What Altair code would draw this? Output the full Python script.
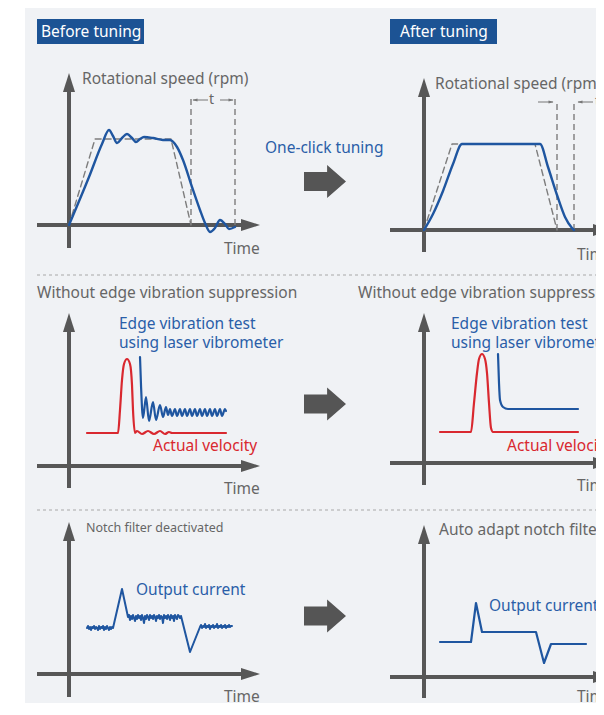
import altair as alt
import pandas as pd

# ---------------- values (local units: t = time from axis origin, v = value above the time axis) -------------
# Row 1 - rotational speed
speed_cmd_before_t = [0, 26, 102, 122]
speed_cmd_before_v = [0, 86, 86, 0]
speed_before_t = [0, 20, 33, 40, 44, 48, 53, 58, 63, 67, 71, 75, 84, 94, 101, 108, 114, 123, 131, 136, 141, 146, 151, 156, 160, 166]
speed_before_v = [0, 48, 81, 95, 89, 82, 87, 91, 87, 83, 86, 88, 87, 85, 85, 78, 65, 38, 15, 2, -7, -3, 5, 1, -4, -2]
settle_before_t = [122, 166]
speed_cmd_after_t = [0, 28, 111, 133]
speed_cmd_after_v = [0, 86, 86, 0]
speed_after_t = [0, 9, 19, 29, 38, 116, 124, 133, 141, 148, 150]
speed_after_v = [0, 16, 39, 66, 86, 86, 63, 35, 13, 2, 0]
settle_after_t = [133, 150]

# Row 2 - edge vibration
vib_red_before_t = [18, 49, 51, 53, 55, 58, 61, 63, 64, 66, 68, 73, 79, 85, 91, 96, 100, 103, 157]
vib_red_before_v = [33, 33, 56, 86, 102, 107, 102, 81, 56, 33, 35, 32, 35, 32, 35, 32, 34, 33, 33]
vib_blue_before_t = [71, 72, 74, 77, 80, 84, 87, 91, 94, 97, 99, 101, 103, 106, 108, 111, 113, 116, 118, 121, 123,
                     126, 128, 131, 133, 136, 138, 141, 143, 146, 148, 151, 153, 156, 157]
vib_blue_before_v = [109, 81, 48, 69, 45, 64, 46, 61, 49, 59, 51, 57, 50, 57, 50, 57, 50, 57, 50, 57, 50,
                     57, 50, 57, 50, 57, 50, 57, 50, 57, 50, 57, 50, 57, 55]
vib_red_after_t = [16, 47, 50, 53, 55, 58, 61, 63, 65, 67, 69, 154]
vib_red_after_v = [31, 31, 60, 90, 104, 109, 104, 90, 60, 35, 31, 31]
vib_blue_after_t = [74, 75, 76, 79, 84, 154]
vib_blue_after_v = [109, 80, 63, 56, 54, 54]

# Row 3 - output current (sampled every time unit on the noisy plateaus)
cur_before_t = list(range(18, 45)) + [53] + list(range(59, 113)) + [121] + list(range(131, 164))
cur_before_v = ([46, 48, 45, 47, 44, 47, 46, 48, 45, 47, 46, 44, 48, 45, 47, 46, 48, 44, 47, 45, 48, 46, 44, 47, 45, 47, 46]
                + [85]
                + [57, 59, 54, 58, 55, 59, 56, 53, 58, 55, 59, 56, 58, 54, 59, 56, 51, 58, 55, 59,
                   57, 54, 59, 56, 58, 55, 59, 57, 53, 58, 56, 59, 55, 58, 57, 51, 59, 56, 58, 55,
                   59, 57, 54, 59, 56, 58, 53, 59, 57, 55, 59, 58, 56, 58]
                + [22]
                + [47, 49, 46, 48, 47, 50, 46, 48, 47, 49, 45, 48, 47, 49, 46, 48, 47, 50, 46, 48,
                   47, 49, 46, 48, 47, 49, 46, 48, 47, 49, 47, 48, 48])
cur_after_t = [16, 47, 52, 58, 112, 120, 127, 162]
cur_after_v = [35, 35, 74, 45, 45, 14, 33, 33]

# ---------------- layout -------------
W, H = 588, 695
xs = alt.Scale(domain=[8, 8 + W], nice=False, zero=False)
ys = alt.Scale(domain=[8, 8 + H], nice=False, zero=False, reverse=True)

# panel: origin, x-axis left end, x-axis tip, y-axis bottom, y-axis tip
panels = {
    "p1": dict(o=(69, 225), xl=37, xt=260, yb=248, yt=73),
    "p2": dict(o=(424, 230), xl=390, xt=612, yb=252, yt=78),
    "p3": dict(o=(69, 466), xl=37, xt=260, yb=488, yt=313),
    "p4": dict(o=(424, 463), xl=390, xt=612, yb=485, yt=313),
    "p5": dict(o=(69, 674), xl=37, xt=260, yb=697, yt=522),
    "p6": dict(o=(424, 677), xl=390, xt=612, yb=698, yt=525),
}

GRAY_AX = "#575757"
DASH = "#7d7d7d"
TXT = "#666666"
BLUE = "#1f56a0"
BLUE_T = "#2a5ea8"
RED = "#d9282f"
BOX = "#1c5394"
BG = "#f0f2f5"
FONT = "Noto Sans"
FS = 15.5


def X(f="x"):
    return alt.X(f"{f}:Q", scale=xs, axis=None)


def Y(f="y"):
    return alt.Y(f"{f}:Q", scale=ys, axis=None)


def curve(p, t, v):
    ox, oy = panels[p]["o"]
    return pd.DataFrame({"x": [ox + a for a in t], "y": [oy - b for b in v], "i": list(range(len(t)))})


def line(df, color, width, interp="monotone", dash=None):
    kw = dict(color=color, strokeWidth=width, interpolate=interp, strokeCap="round", strokeJoin="round")
    if dash:
        kw["strokeDash"] = dash
    return alt.Chart(df).mark_line(**kw).encode(x=X(), y=Y(), order="i:Q")


layers = []

# background panel
bg = pd.DataFrame({"x": [25], "x2": [640], "y": [7], "y2": [740]})
layers.append(alt.Chart(bg).mark_rect(color=BG).encode(x=X(), x2="x2:Q", y=Y(), y2="y2:Q"))

# title boxes
boxes = pd.DataFrame({"x": [37, 390], "x2": [144, 497], "y": [19, 19], "y2": [44, 44]})
layers.append(alt.Chart(boxes).mark_rect(color=BOX).encode(x=X(), x2="x2:Q", y=Y(), y2="y2:Q"))

# separators
sep = pd.DataFrame({"x": [37, 37], "x2": [640, 640], "y": [275, 510]})
layers.append(alt.Chart(sep).mark_rule(color="#a8a8a8", strokeWidth=1, strokeDash=[3, 3]).encode(
    x=X(), x2="x2:Q", y=Y()))

# axes
hx, vx, heads_up, heads_right = [], [], [], []
for p, d in panels.items():
    ox, oy = d["o"]
    hx.append({"x": d["xl"], "x2": d["xt"] - 12, "y": oy})
    vx.append({"x": ox, "y": d["yb"], "y2": d["yt"] + 12})
    heads_up.append({"x": ox, "y": d["yt"] + 9.5})
    heads_right.append({"x": d["xt"] - 9.5, "y": oy})
layers.append(alt.Chart(pd.DataFrame(hx)).mark_rule(color=GRAY_AX, strokeWidth=4).encode(
    x=X(), x2="x2:Q", y=Y()))
layers.append(alt.Chart(pd.DataFrame(vx)).mark_rule(color=GRAY_AX, strokeWidth=4).encode(
    x=X(), y=Y(), y2="y2:Q"))
layers.append(alt.Chart(pd.DataFrame(heads_up)).mark_point(
    shape="M0,-1L0.63,1L-0.63,1Z", size=361, filled=True, color=GRAY_AX, opacity=1, strokeWidth=0).encode(
    x=X(), y=Y()))
layers.append(alt.Chart(pd.DataFrame(heads_right)).mark_point(
    shape="M1,0L-1,-0.63L-1,0.63Z", size=361, filled=True, color=GRAY_AX, opacity=1, strokeWidth=0).encode(
    x=X(), y=Y()))

# big transition arrows
big = pd.DataFrame({"x": [325, 325, 325], "y": [181.5, 404, 616]})
layers.append(alt.Chart(big).mark_point(
    shape="M-1,-0.45L0.1,-0.45L0.1,-0.79L1,0L0.1,0.79L0.1,0.45L-1,0.45Z", size=1764, filled=True,
    color="#555555", opacity=1, strokeWidth=0).encode(x=X(), y=Y()))

# row 1 curves
layers.append(line(curve("p1", speed_cmd_before_t, speed_cmd_before_v), DASH, 1.4, "linear", [6, 4]))
layers.append(line(curve("p2", speed_cmd_after_t, speed_cmd_after_v), DASH, 1.4, "linear", [6, 4]))
# settling-time markers
vl = []
for p, ts, top in [("p1", settle_before_t, 126), ("p2", settle_after_t, 128)]:
    ox, oy = panels[p]["o"]
    for t in ts:
        vl.append({"x": ox + t, "y": oy, "y2": oy - top})
layers.append(alt.Chart(pd.DataFrame(vl)).mark_rule(color=DASH, strokeWidth=1.4, strokeDash=[6, 4]).encode(
    x=X(), y=Y(), y2="y2:Q"))
layers.append(line(curve("p1", speed_before_t, speed_before_v), BLUE, 2.4))
layers.append(line(curve("p2", speed_after_t, speed_after_v), BLUE, 2.4))

# small "t" arrows
ox1, oy1 = panels["p1"]["o"]
ox2, oy2 = panels["p2"]["o"]
ty1 = oy1 - 125
ty2 = oy2 - 128
shafts = pd.DataFrame([
    {"x": ox1 + settle_before_t[0] + 2, "x2": ox1 + settle_before_t[0] + 17, "y": ty1},
    {"x": ox1 + settle_before_t[1] - 15, "x2": ox1 + settle_before_t[1] - 2, "y": ty1},
    {"x": ox2 + settle_after_t[0] - 19, "x2": ox2 + settle_after_t[0] - 4, "y": ty2},
    {"x": ox2 + settle_after_t[1] + 4, "x2": ox2 + settle_after_t[1] + 19, "y": ty2},
])
layers.append(alt.Chart(shafts).mark_rule(color="#777777", strokeWidth=1).encode(x=X(), x2="x2:Q", y=Y()))
hl = pd.DataFrame([
    {"x": ox1 + settle_before_t[0] + 4, "y": ty1},
    {"x": ox2 + settle_after_t[1] + 6, "y": ty2},
])
hr = pd.DataFrame([
    {"x": ox1 + settle_before_t[1] - 4, "y": ty1},
    {"x": ox2 + settle_after_t[0] - 6, "y": ty2},
])
layers.append(alt.Chart(hl).mark_point(shape="M-1,0L1,-0.6L1,0.6Z", size=25, filled=True, color="#777777",
                                       opacity=1, strokeWidth=0).encode(x=X(), y=Y()))
layers.append(alt.Chart(hr).mark_point(shape="M1,0L-1,-0.6L-1,0.6Z", size=25, filled=True, color="#777777",
                                       opacity=1, strokeWidth=0).encode(x=X(), y=Y()))

# row 2 curves
layers.append(line(curve("p3", vib_red_before_t, vib_red_before_v), RED, 2.2))
layers.append(line(curve("p3", vib_blue_before_t, vib_blue_before_v), BLUE, 2.2))
layers.append(line(curve("p4", vib_red_after_t, vib_red_after_v), RED, 2.2))
layers.append(line(curve("p4", vib_blue_after_t, vib_blue_after_v), BLUE, 2.2))

# row 3 curves
layers.append(line(curve("p5", cur_before_t, cur_before_v), BLUE, 2.0, "linear"))
layers.append(line(curve("p6", cur_after_t, cur_after_v), BLUE, 2.2, "linear"))

# texts
texts = pd.DataFrame([
    {"x": 41, "y": 31.5, "t": "Before tuning", "c": "#ffffff", "s": FS},
    {"x": 400, "y": 31.5, "t": "After tuning", "c": "#ffffff", "s": FS},
    {"x": 82, "y": 79, "t": "Rotational speed (rpm)", "c": TXT, "s": FS},
    {"x": 435, "y": 84, "t": "Rotational speed (rpm)", "c": TXT, "s": FS},
    {"x": ox1 + (settle_before_t[0] + settle_before_t[1]) / 2 - 4, "y": ty1, "t": "t", "c": TXT, "s": 14},
    {"x": ox2 + settle_after_t[1] + 21, "y": ty2, "t": "t", "c": TXT, "s": 14},
    {"x": 265, "y": 148, "t": "One-click tuning", "c": BLUE_T, "s": FS},
    {"x": 224, "y": 249, "t": "Time", "c": TXT, "s": FS},
    {"x": 577, "y": 255, "t": "Time", "c": TXT, "s": FS},
    {"x": 37, "y": 293, "t": "Without edge vibration suppression", "c": TXT, "s": FS},
    {"x": 358, "y": 293, "t": "Without edge vibration suppression", "c": TXT, "s": FS},
    {"x": 119, "y": 324, "t": "Edge vibration test", "c": BLUE_T, "s": FS},
    {"x": 119, "y": 343, "t": "using laser vibrometer", "c": BLUE_T, "s": FS},
    {"x": 451, "y": 324, "t": "Edge vibration test", "c": BLUE_T, "s": FS},
    {"x": 451, "y": 343, "t": "using laser vibrometer", "c": BLUE_T, "s": FS},
    {"x": 153, "y": 446, "t": "Actual velocity", "c": RED, "s": FS},
    {"x": 507, "y": 446, "t": "Actual velocity", "c": RED, "s": FS},
    {"x": 224, "y": 489, "t": "Time", "c": TXT, "s": FS},
    {"x": 577, "y": 486, "t": "Time", "c": TXT, "s": FS},
    {"x": 86, "y": 528, "t": "Notch filter deactivated", "c": TXT, "s": 12.5},
    {"x": 439, "y": 530, "t": "Auto adapt notch filter", "c": TXT, "s": FS},
    {"x": 136, "y": 590, "t": "Output current", "c": BLUE_T, "s": FS},
    {"x": 489, "y": 606, "t": "Output current", "c": BLUE_T, "s": FS},
    {"x": 224, "y": 697, "t": "Time", "c": TXT, "s": FS},
    {"x": 577, "y": 697, "t": "Time", "c": TXT, "s": FS},
])
layers.append(alt.Chart(texts).mark_text(align="left", baseline="middle", font=FONT).encode(
    x=X(), y=Y(), text="t:N", color=alt.Color("c:N", scale=None), size=alt.Size("s:Q", scale=None)))

chart = alt.layer(*layers).properties(
    width=W, height=H, autosize=alt.AutoSizeParams(type="none"), padding=0, background="#ffffff"
).configure_view(stroke=None)

chart.save("out.html", embed_options={"renderer": "svg", "actions": False})
